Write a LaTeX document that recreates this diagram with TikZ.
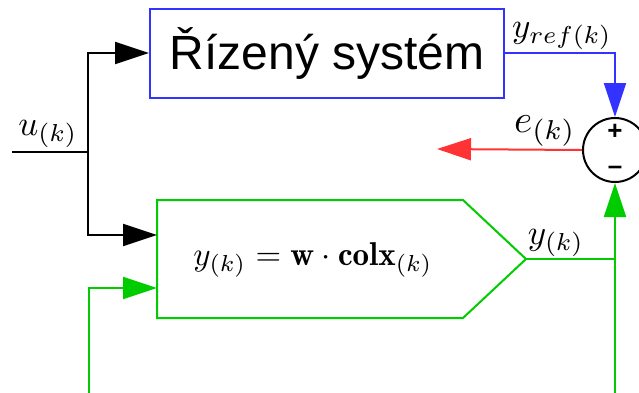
\documentclass[tikz,border=0pt]{standalone}
\usepackage{fontspec}
\newfontfamily\arialf{Liberation Sans}
\usetikzlibrary{arrows.meta}
\definecolor{cblue}{RGB}{51,51,255}
\definecolor{cgreen}{RGB}{0,204,0}
\definecolor{cred}{RGB}{255,51,51}
\begin{document}
\begin{tikzpicture}[x=1pt,y=-1pt,
  wire/.style={line width=2pt},
  tip/.style={-{Triangle[length=34pt,width=22pt]}},
  lbl/.style={scale=3.5, inner sep=0pt},
  sign/.style={font=\arialf\bfseries\fontsize{26}{28}\selectfont, inner sep=0pt}]
\useasboundingbox (0,0) rectangle (639,392);
% blocks
\node[draw=cblue, line width=2pt, minimum width=354pt, minimum height=89pt, inner sep=0pt,
  font=\arialf\fontsize{48}{50}\selectfont] (sys) at (327,53) {Řízený systém};
\node[circle, draw, line width=2pt, minimum size=64pt, inner sep=0pt] (sum) at (615,150) {};
\node[sign] (plus) at (615,132) {+};
\node[sign] (minus) at (615,170) {\textendash};
% model pentagon
\coordinate (pa) at (157,200);
\coordinate (pb) at (463,200);
\coordinate (pc) at (526,259);
\coordinate (pd) at (463,318);
\coordinate (pe) at (157,318);
\draw[wire, cgreen] (pa) -- (pb) -- (pc) -- (pd) -- (pe) -- cycle;
\node[scale=3.3, inner sep=0pt] (eq) at (313,260) {$y_{(k)} = \mathbf{w}\cdot\mathbf{colx}_{(k)}$};
\coordinate (in1) at (157,235);
\coordinate (in2) at (157,288);
% input
\coordinate (uin) at (12,152);
\coordinate (split) at (88,152);
\draw[wire] (uin) -- (split);
\draw[wire, tip] (split) |- (sys.west);
\draw[wire, tip] (split) |- (in1);
\node[lbl] (ul) at (48,134) {$u_{(k)}$};
% reference output
\draw[wire, cblue, tip] (sys.east) -| (sum.north);
\node[lbl] (yrefl) at (562,36) {$y_{ref(k)}$};
% error
\coordinate (eout) at (437,149);
\draw[wire, cred, tip] (sum.west) -- (eout);
\node[lbl, scale=3.9/3.5] (el) at (545,131) {$e_{(k)}$};
% model output
\coordinate (join) at (615,259);
\coordinate (gbot) at (615,395);
\draw[wire, cgreen] (pc) -- (join);
\draw[wire, cgreen, tip] (gbot) -- (sum.south);
\node[lbl] (yl) at (556,243) {$y_{(k)}$};
% feedback
\coordinate (fb) at (89,395);
\draw[wire, cgreen, tip] (fb) |- (in2);
\end{tikzpicture}
\end{document}
